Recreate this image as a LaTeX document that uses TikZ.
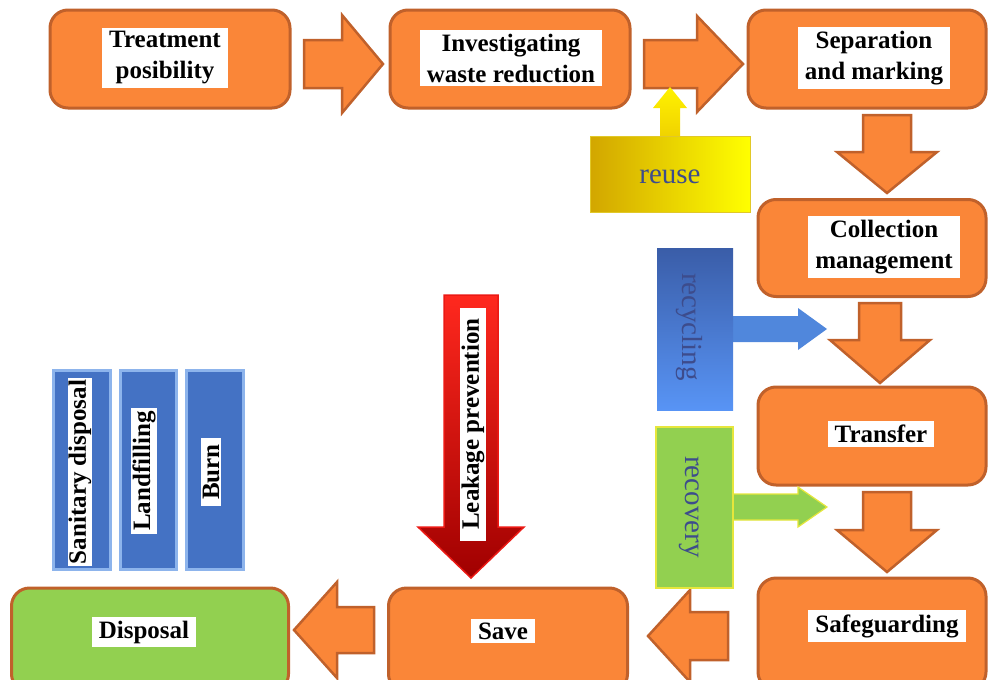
\documentclass[tikz,border=0pt]{standalone}
\usepackage{fontspec}
\setmainfont{Liberation Serif}
\definecolor{org}{HTML}{FA8638}
\definecolor{orgd}{HTML}{C0612B}
\definecolor{grn}{HTML}{92D050}
\definecolor{txtblue}{HTML}{3D4C8C}
\definecolor{barblue}{HTML}{4472C4}
\definecolor{barlight}{HTML}{8DB4EC}
\newcommand\myharrow[7][]{\draw[blockarrow,#1] (#2,#5-#6) -- (#3,#5-#6) -- (#3,#5-#7) -- (#4,#5) -- (#3,#5+#7) -- (#3,#5+#6) -- (#2,#5+#6) -- cycle;}
\newcommand\myvarrow[7][]{\draw[blockarrow,#1] (#5-#6,#2) -- (#5-#6,#3) -- (#5-#7,#3) -- (#5,#4) -- (#5+#7,#3) -- (#5+#6,#3) -- (#5+#6,#2) -- cycle;}
\tikzset{
  procbox/.style={draw=orgd, line width=3pt, fill=org, rounded corners=18pt, inner sep=0pt},
  blockarrow/.style={draw=orgd, line width=2.5pt, fill=org, line join=miter},
  lab/.style={fill=white, text=black, font=\bfseries\fontsize{25}{31}\selectfont, align=center, inner xsep=7pt, inner ysep=4pt},
  sidetxt/.style={text=txtblue, font=\fontsize{29}{31}\selectfont, inner sep=0pt},
  bar/.style={draw=barlight, line width=3pt, fill=barblue, inner sep=0pt},
}
\begin{document}
\begin{tikzpicture}[x=1pt,y=-1pt]
\useasboundingbox (0,0) rectangle (988,680);
\begin{scope}
\clip (0,0) rectangle (988,680);
% process boxes
\node[procbox, minimum width=240pt, minimum height=98pt] (treat) at (170,59) {};
\node[procbox, minimum width=240pt, minimum height=98pt] (invest) at (510,59) {};
\node[procbox, minimum width=238pt, minimum height=98pt] (sep) at (867,59) {};
\node[procbox, minimum width=228pt, minimum height=97pt] (coll) at (872,248) {};
\node[procbox, minimum width=228pt, minimum height=98pt] (trans) at (872,436) {};
\node[procbox, minimum width=228pt, minimum height=112pt] (safe) at (872,634) {};
\node[procbox, minimum width=239pt, minimum height=104pt] (save) at (508,640) {};
\node[procbox, fill=grn, minimum width=277pt, minimum height=104pt] (disp) at (150,640) {};
% labels
\node[lab] (treatL) at (165,58) {Treatment\\posibility};
\node[lab] (investL) at (511,58) {Investigating\\waste reduction};
\node[lab] (sepL) at (874,58) {Separation\\and marking};
\node[lab] (collL) at (884,247) {Collection\\management};
\node[lab] (transL) at (881,434) {Transfer};
\node[lab] (safeL) at (887,626) {Safeguarding};
\node[lab] (saveL) at (503,631) {Save};
\node[lab] (dispL) at (144,632) {Disposal};
% main flow arrows
\myharrow{304}{342}{383}{64}{24}{49}
\myharrow{644}{697}{743}{64}{24}{48}
\myvarrow{115}{152}{193}{887}{24}{50}
\myvarrow{303}{340}{383}{880}{21}{50}
\myvarrow{492}{530}{572}{887}{24}{50}
\myharrow{728}{690}{648}{636}{24}{46}
\myharrow{374}{337}{294}{630}{23}{48}
% reuse
\myvarrow[draw=none, fill=none, top color=yellow!90!orange, bottom color={rgb,255:red,240;green,210;blue,0}]{137}{108}{87}{670}{10}{17}
\node[draw={rgb,255:red,225;green,200;blue,40}, line width=1pt, left color={rgb,255:red,210;green,166;blue,0}, right color={rgb,255:red,255;green,255;blue,0}, minimum width=160pt, minimum height=76pt, inner sep=0pt] (reuse) at (670,174) {};
\node[sidetxt] (reuseT) at (670,177) {reuse};
% recycling
\myharrow[draw=none, fill={rgb,255:red,80;green,135;blue,220}]{733}{798}{827}{329}{13}{21}
\node[top color={rgb,255:red,58;green,93;blue,168}, bottom color={rgb,255:red,88;green,148;blue,245}, minimum width=76pt, minimum height=162pt, inner sep=0pt] (recyc) at (695,329) {};
\node[sidetxt, rotate=-90] (recycT) at (689,327) {recycling};
% recovery
\myharrow[draw={rgb,255:red,230;green,230;blue,60}, line width=1.2pt, fill=grn]{733}{798}{827}{507}{13}{20}
\node[draw={rgb,255:red,230;green,230;blue,60}, line width=1.2pt, fill=grn, minimum width=77pt, minimum height=161pt, inner sep=0pt] (recov) at (694.5,507.5) {};
\node[sidetxt, rotate=-90] (recovT) at (689,507) {recovery};
% leakage prevention red arrow
\myvarrow[draw={rgb,255:red,235;green,25;blue,20}, line width=1.5pt, top color={rgb,255:red,255;green,40;blue,30}, bottom color={rgb,255:red,160;green,0;blue,0}]{295}{527}{578}{471}{27}{53}
\node[lab, rotate=90, minimum width=233pt, inner ysep=2pt] (leakL) at (473,424) {Leakage prevention};
% disposal options bars
\node[bar, minimum width=57pt, minimum height=199pt] (san) at (81.5,469.5) {};
\node[bar, minimum width=56pt, minimum height=199pt] (land) at (148,469.5) {};
\node[bar, minimum width=57pt, minimum height=199pt] (burn) at (214.5,469.5) {};
\node[lab, rotate=90, inner xsep=2pt, inner ysep=1pt] (sanL) at (80,472) {Sanitary disposal};
\node[lab, rotate=90, inner xsep=3pt, inner ysep=1pt] (landL) at (144,471) {Landfilling};
\node[lab, rotate=90, inner xsep=6pt, inner ysep=2pt] (burnL) at (211,472) {Burn};
\end{scope}
\end{tikzpicture}
\end{document}
